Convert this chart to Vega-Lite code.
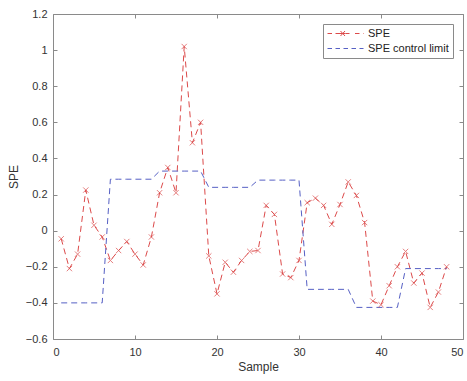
{
  "$schema": "https://vega.github.io/schema/vega-lite/v6.json",
  "width": 410,
  "height": 325,
  "autosize": {"type": "none"},
  "padding": {"left": 53, "top": 14, "right": 4, "bottom": 42},
  "background": "white",
  "config": {
    "font": "Liberation Sans",
    "view": {"stroke": "#8a8a8a", "strokeWidth": 1},
    "axis": {
      "grid": false,
      "domain": false,
      "tickColor": "#8a8a8a",
      "tickSize": -4,
      "labelColor": "#333333",
      "labelFontSize": 11,
      "labelFont": "Liberation Sans",
      "titleColor": "#333333",
      "titleFontSize": 12,
      "titleFontWeight": "normal",
      "titleFont": "Liberation Sans"
    }
  },
  "data": {
    "values": [
      {"sample": 1, "value": -0.045, "series": "SPE"},
      {"sample": 2, "value": -0.21, "series": "SPE"},
      {"sample": 3, "value": -0.13, "series": "SPE"},
      {"sample": 4, "value": 0.225, "series": "SPE"},
      {"sample": 5, "value": 0.03, "series": "SPE"},
      {"sample": 6, "value": -0.035, "series": "SPE"},
      {"sample": 7, "value": -0.165, "series": "SPE"},
      {"sample": 8, "value": -0.11, "series": "SPE"},
      {"sample": 9, "value": -0.06, "series": "SPE"},
      {"sample": 10, "value": -0.13, "series": "SPE"},
      {"sample": 11, "value": -0.19, "series": "SPE"},
      {"sample": 12, "value": -0.035, "series": "SPE"},
      {"sample": 13, "value": 0.21, "series": "SPE"},
      {"sample": 14, "value": 0.35, "series": "SPE"},
      {"sample": 15, "value": 0.21, "series": "SPE"},
      {"sample": 16, "value": 1.02, "series": "SPE"},
      {"sample": 17, "value": 0.487, "series": "SPE"},
      {"sample": 18, "value": 0.6, "series": "SPE"},
      {"sample": 19, "value": -0.14, "series": "SPE"},
      {"sample": 20, "value": -0.35, "series": "SPE"},
      {"sample": 21, "value": -0.175, "series": "SPE"},
      {"sample": 22, "value": -0.23, "series": "SPE"},
      {"sample": 23, "value": -0.165, "series": "SPE"},
      {"sample": 24, "value": -0.115, "series": "SPE"},
      {"sample": 25, "value": -0.11, "series": "SPE"},
      {"sample": 26, "value": 0.14, "series": "SPE"},
      {"sample": 27, "value": 0.09, "series": "SPE"},
      {"sample": 28, "value": -0.24, "series": "SPE"},
      {"sample": 29, "value": -0.26, "series": "SPE"},
      {"sample": 30, "value": -0.165, "series": "SPE"},
      {"sample": 31, "value": 0.155, "series": "SPE"},
      {"sample": 32, "value": 0.18, "series": "SPE"},
      {"sample": 33, "value": 0.14, "series": "SPE"},
      {"sample": 34, "value": 0.035, "series": "SPE"},
      {"sample": 35, "value": 0.145, "series": "SPE"},
      {"sample": 36, "value": 0.27, "series": "SPE"},
      {"sample": 37, "value": 0.195, "series": "SPE"},
      {"sample": 38, "value": 0.045, "series": "SPE"},
      {"sample": 39, "value": -0.39, "series": "SPE"},
      {"sample": 40, "value": -0.41, "series": "SPE"},
      {"sample": 41, "value": -0.305, "series": "SPE"},
      {"sample": 42, "value": -0.2, "series": "SPE"},
      {"sample": 43, "value": -0.115, "series": "SPE"},
      {"sample": 44, "value": -0.29, "series": "SPE"},
      {"sample": 45, "value": -0.235, "series": "SPE"},
      {"sample": 46, "value": -0.425, "series": "SPE"},
      {"sample": 47, "value": -0.34, "series": "SPE"},
      {"sample": 48, "value": -0.2, "series": "SPE"},
      {"sample": 1, "value": -0.4, "series": "SPE control limit"},
      {"sample": 2, "value": -0.4, "series": "SPE control limit"},
      {"sample": 3, "value": -0.4, "series": "SPE control limit"},
      {"sample": 4, "value": -0.4, "series": "SPE control limit"},
      {"sample": 5, "value": -0.4, "series": "SPE control limit"},
      {"sample": 6, "value": -0.4, "series": "SPE control limit"},
      {"sample": 7, "value": 0.285, "series": "SPE control limit"},
      {"sample": 8, "value": 0.285, "series": "SPE control limit"},
      {"sample": 9, "value": 0.285, "series": "SPE control limit"},
      {"sample": 10, "value": 0.285, "series": "SPE control limit"},
      {"sample": 11, "value": 0.285, "series": "SPE control limit"},
      {"sample": 12, "value": 0.285, "series": "SPE control limit"},
      {"sample": 13, "value": 0.33, "series": "SPE control limit"},
      {"sample": 14, "value": 0.33, "series": "SPE control limit"},
      {"sample": 15, "value": 0.33, "series": "SPE control limit"},
      {"sample": 16, "value": 0.33, "series": "SPE control limit"},
      {"sample": 17, "value": 0.33, "series": "SPE control limit"},
      {"sample": 18, "value": 0.33, "series": "SPE control limit"},
      {"sample": 19, "value": 0.24, "series": "SPE control limit"},
      {"sample": 20, "value": 0.24, "series": "SPE control limit"},
      {"sample": 21, "value": 0.24, "series": "SPE control limit"},
      {"sample": 22, "value": 0.24, "series": "SPE control limit"},
      {"sample": 23, "value": 0.24, "series": "SPE control limit"},
      {"sample": 24, "value": 0.24, "series": "SPE control limit"},
      {"sample": 25, "value": 0.28, "series": "SPE control limit"},
      {"sample": 26, "value": 0.28, "series": "SPE control limit"},
      {"sample": 27, "value": 0.28, "series": "SPE control limit"},
      {"sample": 28, "value": 0.28, "series": "SPE control limit"},
      {"sample": 29, "value": 0.28, "series": "SPE control limit"},
      {"sample": 30, "value": 0.28, "series": "SPE control limit"},
      {"sample": 31, "value": -0.325, "series": "SPE control limit"},
      {"sample": 32, "value": -0.325, "series": "SPE control limit"},
      {"sample": 33, "value": -0.325, "series": "SPE control limit"},
      {"sample": 34, "value": -0.325, "series": "SPE control limit"},
      {"sample": 35, "value": -0.325, "series": "SPE control limit"},
      {"sample": 36, "value": -0.325, "series": "SPE control limit"},
      {"sample": 37, "value": -0.425, "series": "SPE control limit"},
      {"sample": 38, "value": -0.425, "series": "SPE control limit"},
      {"sample": 39, "value": -0.425, "series": "SPE control limit"},
      {"sample": 40, "value": -0.425, "series": "SPE control limit"},
      {"sample": 41, "value": -0.425, "series": "SPE control limit"},
      {"sample": 42, "value": -0.425, "series": "SPE control limit"},
      {"sample": 43, "value": -0.21, "series": "SPE control limit"},
      {"sample": 44, "value": -0.21, "series": "SPE control limit"},
      {"sample": 45, "value": -0.21, "series": "SPE control limit"},
      {"sample": 46, "value": -0.21, "series": "SPE control limit"},
      {"sample": 47, "value": -0.21, "series": "SPE control limit"},
      {"sample": 48, "value": -0.21, "series": "SPE control limit"}
    ]
  },
  "layer": [
    {
      "mark": {"type": "line", "strokeDash": [6, 4], "strokeWidth": 1, "clip": true},
      "encoding": {
        "x": {"field": "sample", "type": "quantitative", "scale": {"domain": [0, 50], "nice": false}, "axis": {"values": [0, 10, 20, 30, 40, 50], "title": "Sample", "titleY": 22, "labelPadding": 11}},
        "y": {"field": "value", "type": "quantitative", "scale": {"domain": [-0.6, 1.2], "nice": false, "zero": false}, "axis": {"values": [-0.6, -0.4, -0.2, 0, 0.2, 0.4, 0.6, 0.8, 1, 1.2], "format": "~g", "title": "SPE", "titleX": -33, "labelPadding": 10}},
        "color": {
          "field": "series",
          "type": "nominal",
          "scale": {"domain": ["SPE", "SPE control limit"], "range": ["#dc4a4a", "#5660c4"]},
          "legend": {
            "title": null,
            "orient": "none",
            "legendX": 270,
            "legendY": 10,
            "direction": "vertical",
            "strokeColor": "#8a8a8a",
            "fillColor": "white",
            "padding": 4,
            "rowPadding": 3,
            "labelFontSize": 11,
            "labelColor": "#222222",
            "labelFont": "Liberation Sans",
            "labelOffset": 30,
            "symbolSize": 100,
            "symbolStrokeWidth": 1,
            "symbolType": "stroke",
            "encode": {
              "symbols": {
                "update": {
                  "shape": {"signal": "datum.value === 'SPE' ? 'M-1,0H-0.1M0.6,0H1.5M2.6,0H3.4M4.5,0H5.4M6.1,0H6.2M1.5,0H2.6M1.6,-0.5L2.5,0.5M1.6,0.5L2.5,-0.5' : 'M-1,0H-0.1M0.6,0H1.5M2.2,0H3.1M3.8,0H4.7M5.4,0H6.2'"},
                  "fill": {"value": "transparent"},
                  "strokeDash": {"value": []}
                }
              }
            }
          }
        }
      }
    },
    {
      "transform": [{"filter": "datum.series === 'SPE'"}],
      "mark": {"type": "point", "shape": "M-1,-1L1,1M-1,1L1,-1", "filled": false, "size": 28, "strokeWidth": 1},
      "encoding": {
        "x": {"field": "sample", "type": "quantitative", "axis": {"orient": "top", "values": [0, 10, 20, 30, 40, 50], "labels": false, "title": null}},
        "y": {"field": "value", "type": "quantitative", "axis": {"orient": "right", "values": [-0.6, -0.4, -0.2, 0, 0.2, 0.4, 0.6, 0.8, 1, 1.2], "labels": false, "title": null}},
        "color": {"field": "series", "type": "nominal"}
      }
    }
  ],
  "resolve": {"axis": {"x": "independent", "y": "independent"}}
}
